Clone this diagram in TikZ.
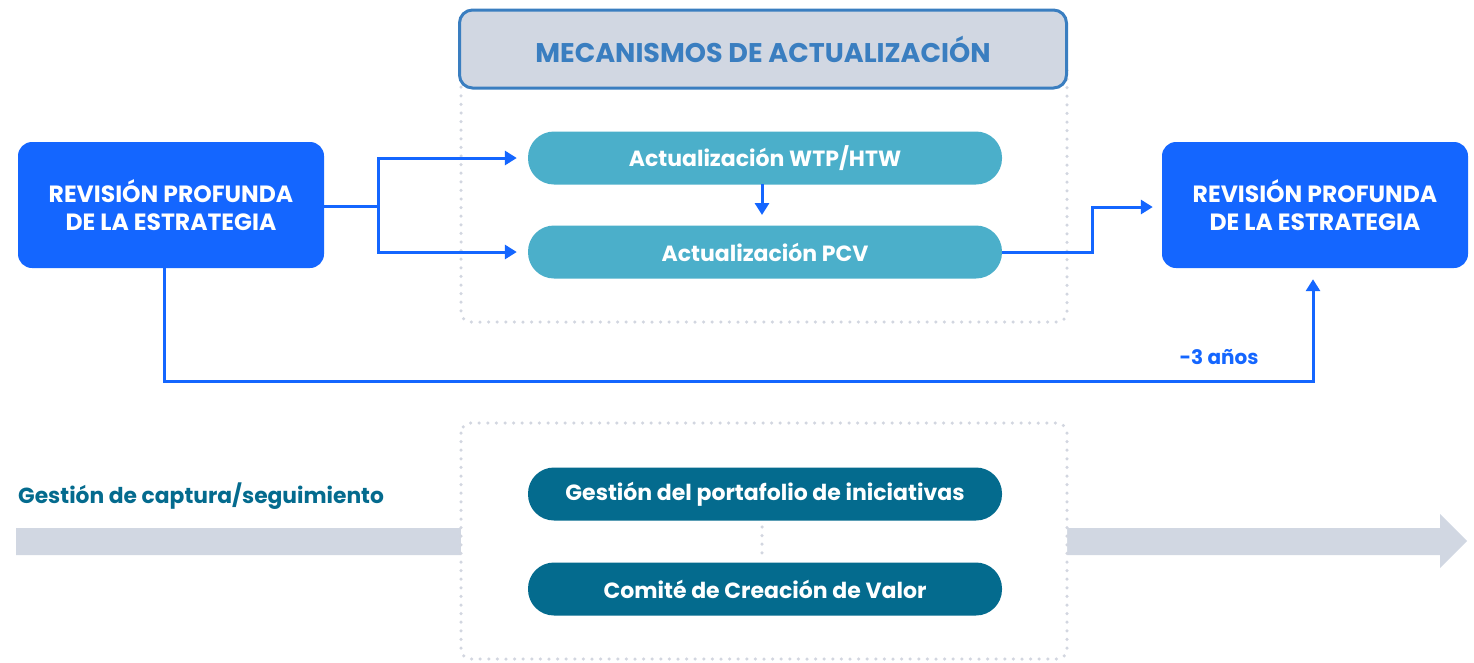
\documentclass[tikz,border=0pt]{standalone}
\usepackage{fontspec}
\setmainfont{Poppins}
\usetikzlibrary{arrows.meta}
\definecolor{bblue}{HTML}{1466FF}
\definecolor{lteal}{HTML}{4BAFCA}
\definecolor{dteal}{HTML}{046B8E}
\definecolor{hdrtxt}{HTML}{3A7EC0}
\definecolor{hdrfill}{HTML}{D1D7E2}
\definecolor{dotgray}{HTML}{D2D6E0}
\begin{document}
\begin{tikzpicture}[x=1pt,y=-1pt,
  bigbox/.style={draw=none,fill=bblue,rounded corners=14pt,minimum width=306pt,minimum height=126pt,text=white,align=center,font=\fontsize{23.5}{28}\selectfont\bfseries},
  pill/.style={draw=none,rounded corners=26pt,minimum width=474pt,minimum height=53pt,text=white,font=\fontsize{22}{24}\selectfont\bfseries},
  conn/.style={draw=bblue,line width=3pt},
  tip/.style={-{Triangle[length=12pt,width=14pt]}},
  dotline/.style={draw=dotgray,line width=3.5pt,line cap=round,dash pattern=on 0pt off 8.6pt}
]
\useasboundingbox (0,0) rectangle (1474,662);
% gray band arrow
\fill[hdrfill] (16,528) -- (1440,528) -- (1440,514) -- (1467,541) -- (1440,568) -- (1440,555) -- (16,555) -- cycle;
% dotted boxes
\draw[dotline,fill=white,rounded corners=10pt] (461,423) rectangle (1067,659);
\draw[dotline,rounded corners=10pt] (461,60) rectangle (1067,322);
% header
\node[draw=hdrtxt,line width=3pt,fill=hdrfill,rounded corners=13pt,minimum width=607pt,minimum height=78pt,text=hdrtxt,font=\fontsize{27}{30}\selectfont\bfseries] (hdr) at (763,49) {MECANISMOS DE ACTUALIZACIÓN};
% big boxes
\node[bigbox] (left) at (171,205) {REVISIÓN PROFUNDA\\DE LA ESTRATEGIA};
\node[bigbox] (right) at (1315,205) {REVISIÓN PROFUNDA\\DE LA ESTRATEGIA};
% pills
\node[pill,fill=lteal] (wtp) at (765,158) {Actualización WTP/HTW};
\node[pill,fill=lteal] (pcv) at (765,252) {Actualización PCV};
\node[pill,fill=dteal] (gest) at (765,494) {Gestión del portafolio de iniciativas};
\node[pill,fill=dteal] (comite) at (765,589) {Comité de Creación de Valor};
% connectors
\coordinate (fork) at (378,206);
\draw[conn] (left.east |- fork) -- (fork);
\draw[conn,tip] (fork) |- ([xshift=-11pt]wtp.west);
\draw[conn,tip] (fork) |- ([xshift=-11pt]pcv.west);
\draw[conn,tip] (762,184) -- (762,215);
\coordinate (bend) at (1092,207);
\draw[conn,tip] (pcv.east) -| (bend) -- ([xshift=-9pt]right.west |- bend);
\coordinate (lowl) at (164,381);
\coordinate (lowr) at (1313,381);
\draw[conn,tip] (left.south -| lowl) -- (lowl) -- (lowr) -- ([yshift=-11pt]right.south -| lowr);
\node[text=bblue,font=\fontsize{20}{22}\selectfont\bfseries] (anos) at (1219,357) {-3 años};
\draw[dotline] (762,527) -- (762,558);
\node[anchor=west,text=dteal,font=\fontsize{21.8}{24}\selectfont\bfseries,inner sep=0pt] (cap) at (18,496) {Gestión de captura/seguimiento};
\end{tikzpicture}
\end{document}
